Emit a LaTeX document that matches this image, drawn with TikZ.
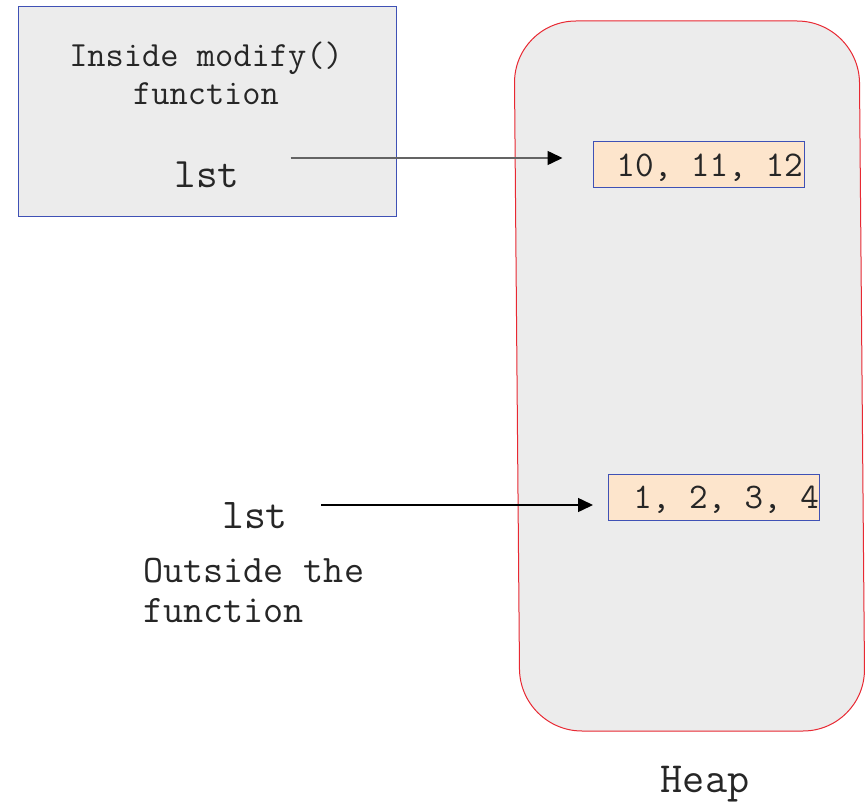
\documentclass[tikz,border=0pt]{standalone}
\usepackage{fontspec}
\usetikzlibrary{arrows.meta}
\definecolor{panel}{RGB}{236,236,236}
\definecolor{frameblue}{RGB}{63,81,181}
\definecolor{peach}{RGB}{253,229,204}
\definecolor{heapred}{RGB}{232,40,50}
\definecolor{linegrey}{RGB}{100,100,100}
\tikzset{
  txt/.style={font=\ttfamily, inner sep=0pt, text=black!85},
  valbox/.style={draw=frameblue, fill=peach, line width=1pt, minimum width=211pt,
    minimum height=46pt, inner sep=0pt},
  ptr/.style={line width=1.5pt, -{Triangle[length=15pt,width=14pt]}},
}
\begin{document}
\begin{tikzpicture}[x=1pt,y=-1pt]
\useasboundingbox (0,0) rectangle (868,805);
% heap region, a slightly tilted rounded box
\draw[heapred, fill=panel, line width=1pt, rounded corners=62pt]
  (690,21) -- (859,21) -- (865,731) -- (520,731) -- (514,21) -- cycle;
% frame of the called function
\node[draw=frameblue, fill=panel, line width=1pt, minimum width=378pt,
  minimum height=210pt, inner sep=0pt] (frame) at (207,112) {};
\node[txt, font=\ttfamily\fontsize{35.4}{38}\selectfont, align=center] (title) at (206,73)
  {Inside modify()\\function};
\node[txt, font=\ttfamily\fontsize{42}{44}\selectfont] (lsta) at (207,175) {lst};
% list objects on the heap
\node[valbox] (vala) at (698.5,165) {};
\node[txt, font=\ttfamily\fontsize{36.2}{38}\selectfont, anchor=east] (vtexta) at (803,168) {10, 11, 12};
\node[valbox] (valb) at (714,497) {};
\node[txt, font=\ttfamily\fontsize{36}{38}\selectfont, anchor=east] (vtextb) at (819,500) {1, 2, 3, 4};
% caller side
\node[txt, font=\ttfamily\fontsize{42.5}{44}\selectfont] (lstb) at (255,516) {lst};
\node[txt, font=\ttfamily\fontsize{39}{40}\selectfont, align=left, anchor=west] (outside) at (143,590)
  {Outside the\\function};
\node[txt, font=\ttfamily\fontsize{43}{46}\selectfont] (heap) at (705,784) {Heap};
% references
\draw[ptr, draw=linegrey, -{Triangle[length=15pt,width=14pt,fill=black,color=black]}]
  ([xshift=51pt]lsta.east |- 0,158) -- ([xshift=-30pt]vala.west |- 0,158);
\draw[ptr, draw=black] ([xshift=33pt]lstb.east |- 0,505) -- ([xshift=-15pt]valb.west |- 0,505);
\end{tikzpicture}
\end{document}
